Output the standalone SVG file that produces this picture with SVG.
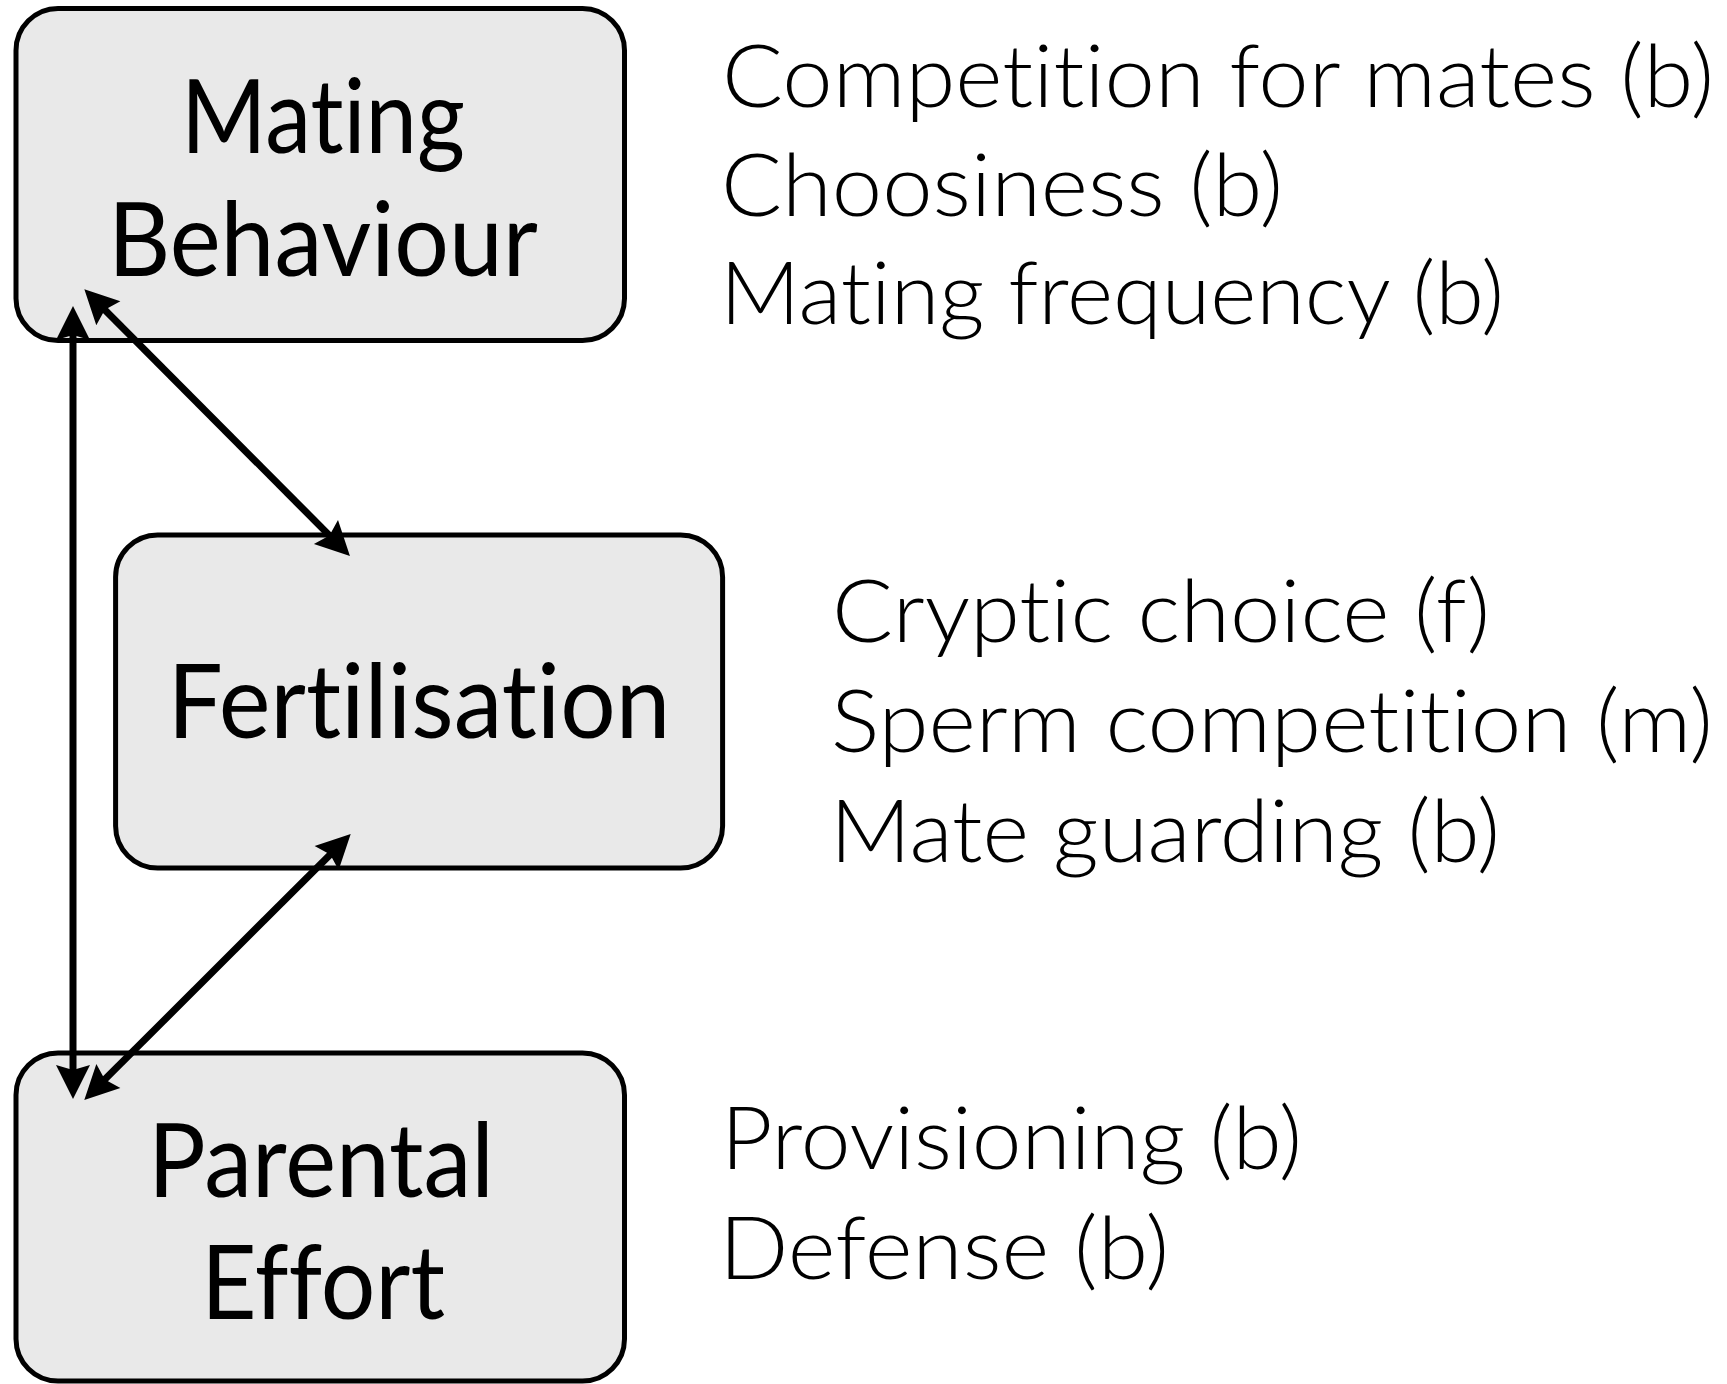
<svg xmlns="http://www.w3.org/2000/svg" width="1727" height="1384" viewBox="0 0 1727 1384">
  <style>
    .box { fill: #e9e9e9; stroke: #000; stroke-width: 5; }
    .title { font-family: "Lato", "Liberation Sans", sans-serif; font-size: 102px; font-weight: 400; fill: #000; text-anchor: middle; font-variant-ligatures: none; font-feature-settings: "liga" 0, "clig" 0; }
    .item { font-family: "Lato", "Liberation Sans", sans-serif; font-size: 87px; font-weight: 300; fill: #000; font-variant-ligatures: none; font-feature-settings: "liga" 0, "clig" 0; }
    .conn { stroke: #000; stroke-width: 7; fill: none; marker-start: url(#head); marker-end: url(#head); }
  </style>
  <defs>
    <marker id="head" markerUnits="userSpaceOnUse" markerWidth="60" markerHeight="60" viewBox="-30 -30 60 60" refX="0" refY="0" orient="auto-start-reverse" overflow="visible">
      <path d="M26,0 L-8,-17 L-3,0 L-8,17 Z" fill="#000"/>
    </marker>
  </defs>

  <g id="node-mating">
    <rect class="box" x="16" y="8.5" width="608.5" height="332" rx="42" ry="42"/>
    <text class="title" x="323" y="153" textLength="284" lengthAdjust="spacingAndGlyphs">Mating</text>
    <text class="title" x="323" y="276" textLength="430" lengthAdjust="spacingAndGlyphs">Behaviour</text>
  </g>

  <g id="node-fertilisation">
    <rect class="box" x="115.6" y="535" width="607" height="333" rx="42" ry="42"/>
    <text class="title" x="419" y="738" textLength="503" lengthAdjust="spacingAndGlyphs">Fertilisation</text>
  </g>

  <g id="node-parental">
    <rect class="box" x="16" y="1053" width="608.5" height="328" rx="42" ry="42"/>
    <text class="title" x="321" y="1197" textLength="346" lengthAdjust="spacingAndGlyphs">Parental</text>
    <text class="title" x="323" y="1319" textLength="244" lengthAdjust="spacingAndGlyphs">Effort</text>
  </g>

  <g id="list-mating">
    <text class="item" x="722" y="107" textLength="992" lengthAdjust="spacingAndGlyphs">Competition for mates (b)</text>
    <text class="item" x="721" y="216" textLength="562" lengthAdjust="spacingAndGlyphs">Choosiness (b)</text>
    <text class="item" x="720" y="324" textLength="784" lengthAdjust="spacingAndGlyphs">Mating frequency (b)</text>
  </g>

  <g id="list-fertilisation">
    <text class="item" x="832" y="642" textLength="658" lengthAdjust="spacingAndGlyphs">Cryptic choice (f)</text>
    <text class="item" x="831" y="752" textLength="882" lengthAdjust="spacingAndGlyphs">Sperm competition (m)</text>
    <text class="item" x="830" y="862" textLength="670" lengthAdjust="spacingAndGlyphs">Mate guarding (b)</text>
  </g>

  <g id="list-parental">
    <text class="item" x="721" y="1169" textLength="581" lengthAdjust="spacingAndGlyphs">Provisioning (b)</text>
    <text class="item" x="719" y="1279" textLength="450" lengthAdjust="spacingAndGlyphs">Defense (b)</text>
  </g>

  <g id="connectors">
    <line class="conn" x1="73" y1="332" x2="73" y2="1073"/>
    <line class="conn" x1="102.7" y1="307.7" x2="331.6" y2="537.6"/>
    <line class="conn" x1="332.3" y1="852.4" x2="102.7" y2="1081.6"/>
  </g>
</svg>
